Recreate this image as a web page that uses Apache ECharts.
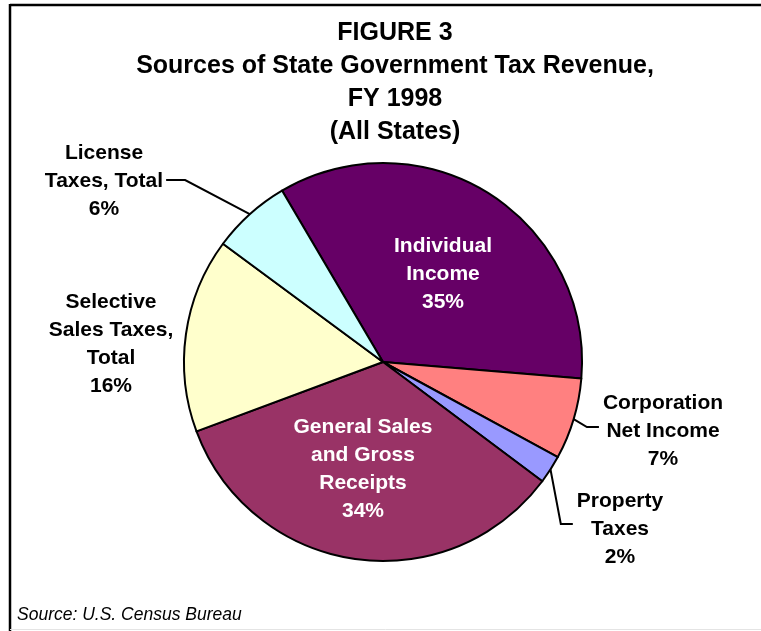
<!DOCTYPE html>
<html>
<head>
<meta charset="utf-8">
<title>Sources of State Government Tax Revenue, FY 1998</title>
<script src="https://cdn.jsdelivr.net/npm/echarts/dist/echarts.min.js"></script>
<style>
  html, body { margin: 0; padding: 0; background: #fff; }
  #main { width: 761px; height: 631px; }
</style>
</head>
<body>
<div id="main"></div>
<script>
// slices, clockwise from the License / Individual Income boundary
var categories = [
  'Individual\nIncome',
  'Corporation\nNet Income',
  'Property\nTaxes',
  'General Sales\nand Gross\nReceipts',
  'Selective\nSales Taxes,\nTotal',
  'License\nTaxes, Total'
];
var shares = [34.8, 6.6, 2.3, 34.1, 15.8, 6.4]; // % of total

var sliceColors = ['#660066', '#FF8080', '#9999FF', '#993366', '#FFFFCC', '#CCFFFF'];
var insideLabel = [true, false, false, true, false, false];

// where each label block sits (centre of the text block)
var labelPos = [[443, 274], [663, 431], [620, 529], [363, 469], [111, 344], [104, 181]];
// which side the leader line comes in from (null = no line)
var lineSide = [null, 'right', 'right', null, null, 'left'];
var lineDy = [0, -4, -5, 0, 0, -1];

var FONT = '"Liberation Sans", Arial, Helvetica, sans-serif';

var chart = echarts.init(document.getElementById('main'));

var pieData = categories.map(function (name, i) {
  var item = {
    name: name,
    value: shares[i],
    itemStyle: { color: sliceColors[i] }
  };
  if (insideLabel[i]) {
    item.label = { position: 'inside', color: '#fff' };
    item.labelLine = { show: false };
  } else if (!lineSide[i]) {
    item.labelLine = { show: false };
  }
  return item;
});

var option = {
  animation: false,
  backgroundColor: '#fff',
  graphic: [
    // frame (top + left only, like the scan)
    { type: 'line', shape: { x1: 10, y1: 5, x2: 761, y2: 5 }, style: { stroke: '#000', lineWidth: 2.5 } },
    { type: 'line', shape: { x1: 10, y1: 4, x2: 10, y2: 631 }, style: { stroke: '#000', lineWidth: 2.5 } },
    { type: 'line', shape: { x1: 10, y1: 629.5, x2: 761, y2: 629.5 }, style: { stroke: '#e4e4e4', lineWidth: 1 } },
    {
      type: 'text',
      style: {
        text: 'FIGURE 3\nSources of State Government Tax Revenue,\nFY 1998\n(All States)',
        x: 395,
        y: 17,
        textAlign: 'center',
        fill: '#000',
        font: 'bold 25px ' + FONT,
        lineHeight: 33
      }
    },
    {
      type: 'text',
      style: {
        text: 'Source: U.S. Census Bureau',
        x: 17,
        y: 615,
        textVerticalAlign: 'middle',
        fill: '#000',
        font: 'italic 17.5px ' + FONT
      }
    }
  ],
  series: [{
    type: 'pie',
    center: [383, 362],
    radius: 199,
    startAngle: 120.5,
    clockwise: true,
    percentPrecision: 0,
    avoidLabelOverlap: false,
    emphasis: { disabled: true },
    itemStyle: { borderColor: '#000', borderWidth: 2 },
    label: {
      show: true,
      formatter: '{b}\n{d}%',
      color: '#000',
      fontFamily: FONT,
      fontWeight: 'bold',
      fontSize: 21,
      lineHeight: 28
    },
    labelLine: {
      show: true,
      length: 10,
      length2: 10,
      lineStyle: { color: '#000', width: 2 }
    },
    labelLayout: function (params) {
      var i = params.dataIndex;
      var pos = labelPos[i];
      var res = { x: pos[0], y: pos[1], align: 'center', verticalAlign: 'middle' };
      var side = lineSide[i];
      if (side && params.labelLinePoints) {
        var halfW = params.labelRect.width / 2;
        var endX = side === 'left' ? pos[0] + halfW + 3 : pos[0] - halfW - 4;
        var elbowX = side === 'left' ? endX + 19 : endX - 12;
        var y = pos[1] + lineDy[i];
        res.labelLinePoints = [params.labelLinePoints[0], [elbowX, y], [endX, y]];
      }
      return res;
    },
    data: pieData
  }]
};

chart.setOption(option);
</script>
</body>
</html>
